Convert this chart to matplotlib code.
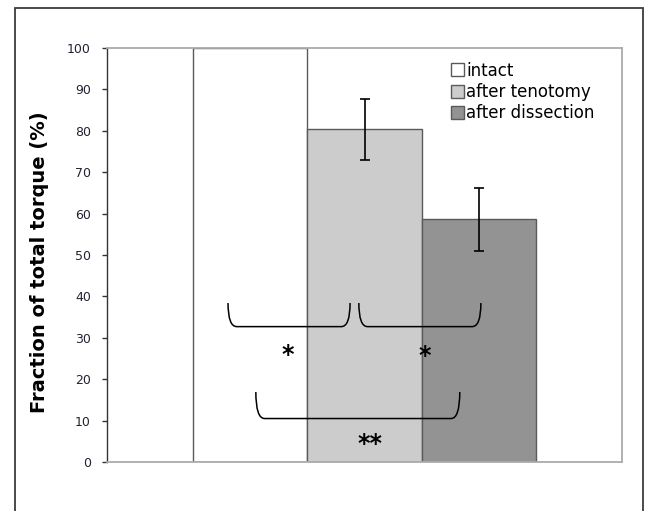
"""
Fraction of total torque after tenotomy / dissection, Excel-style bar chart.
"""

import matplotlib
matplotlib.use("Agg")
import matplotlib.pyplot as plt
from matplotlib.patches import Patch, Rectangle, PathPatch
from matplotlib.path import Path

# data
conditions = ["intact", "after tenotomy", "after dissection"]
torque_pct = [100.0, 80.4, 58.6]
torque_err = [0.0, 7.4, 7.6]
bar_colors = ["#ffffff", "#cccccc", "#939393"]

# significance brackets: (x_left, x_right, base, top) in data units
brackets = [(-0.265, -0.028, 32.7, 38.4),
            (-0.011, 0.226, 32.7, 38.4),
            (-0.211, 0.185, 10.5, 16.9)]
stars = ["*", "*", "**"]
star_pos = [(-0.150, 25.8), (0.117, 25.6), (0.011, 4.3)]

W, H = 646, 511
fig = plt.figure(figsize=(W / 100, H / 100), dpi=100)
fig.patch.set_facecolor("white")

# outer chart frame
fig.patches.append(Rectangle((15 / W, -0.05), (643 - 15) / W, 1 - 8 / H + 0.05,
                             transform=fig.transFigure, fill=False,
                             edgecolor="#3c3c3c", linewidth=1.3))

ax = fig.add_axes([107 / W, (H - 462) / H, 515 / W, 414 / H])

width = 2 / 9
xs = [-width, 0.0, width]
for x, v, e, c, lab in zip(xs, torque_pct, torque_err, bar_colors, conditions):
    ax.bar(x, v, width=width, color=c, edgecolor="#5a5a5a", linewidth=1.0,
           label=lab, zorder=2)
    if e > 0:
        ax.errorbar(x, v, yerr=e, fmt="none", ecolor="black", elinewidth=1.2,
                    capsize=3.6, capthick=1.2, zorder=3)

ax.set_xlim(-0.5, 0.5)
ax.set_ylim(0, 100)
ax.set_yticks(range(0, 101, 10))
ax.set_xticks([])
ax.tick_params(axis="y", direction="out", length=3.5, width=1, color="#333333",
               labelsize=9, labelcolor="#222233", pad=8)

for side in ("top", "right", "bottom"):
    ax.spines[side].set_color("#ababab")
    ax.spines[side].set_linewidth(1.3)
ax.spines["left"].set_color("#333333")
ax.spines["left"].set_linewidth(1.0)

# brackets
for x0, x1, base, top in brackets:
    dx = 0.017
    verts = [(x0, top), (x0, base), (x0 + dx, base),
             (x1 - dx, base),
             (x1, base), (x1, top)]
    codes = [Path.MOVETO, Path.CURVE3, Path.CURVE3,
             Path.LINETO,
             Path.CURVE3, Path.CURVE3]
    ax.add_patch(PathPatch(Path(verts, codes), fill=False, edgecolor="black",
                           linewidth=1.1, zorder=4))

for s, (sx, sy) in zip(stars, star_pos):
    ax.text(sx, sy, s, ha="center", va="center", fontsize=17, fontweight="bold",
            color="black", zorder=5)

handles = [Patch(facecolor=c, edgecolor="#5a5a5a", linewidth=1.0) for c in bar_colors]
ax.legend(handles, conditions, loc="upper left", bbox_to_anchor=(0.668, 0.967),
          frameon=False, fontsize=12, handlelength=0.75, handleheight=0.8,
          handletextpad=0.15, labelspacing=0.2, borderpad=0, borderaxespad=0)

fig.text(40 / W, 1 - 262 / H, "Fraction of total torque (%)", rotation=90,
         ha="center", va="center", fontsize=14, fontweight="bold")

fig.savefig("out.png", dpi=100)
